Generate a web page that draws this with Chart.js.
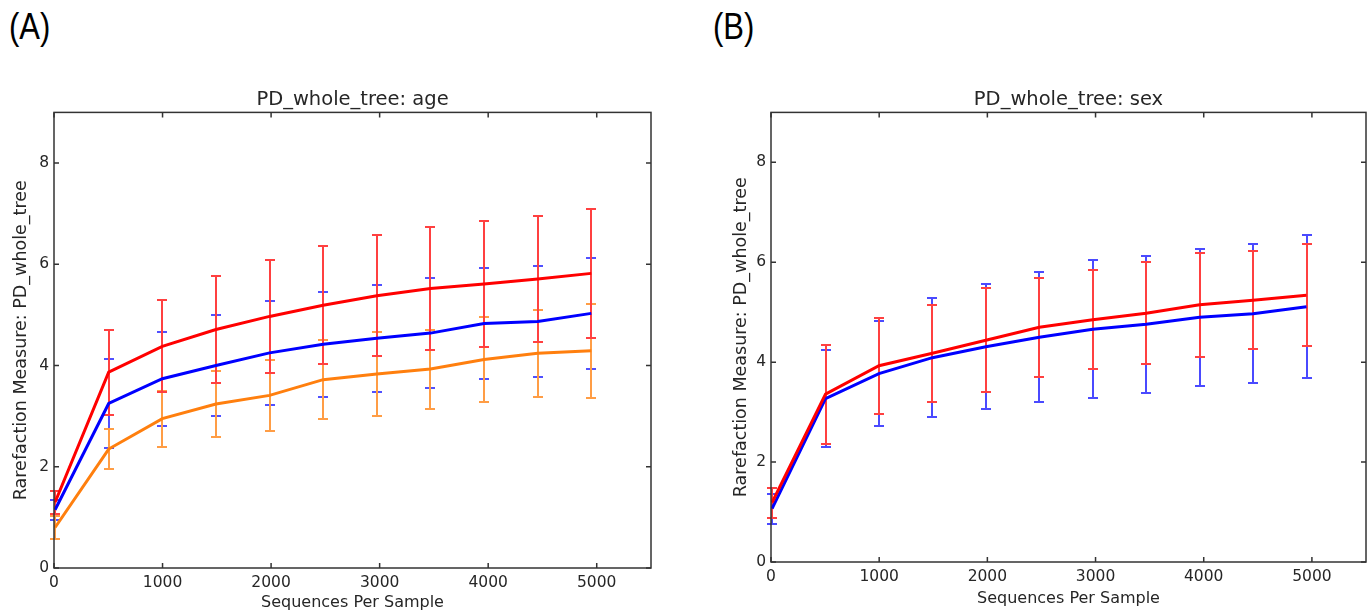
<!DOCTYPE html>
<html>
<head>
<meta charset="utf-8">
<script src="https://cdn.jsdelivr.net/npm/chart.js@4.4.1/dist/chart.umd.min.js"></script>
<style>
  html, body { margin: 0; padding: 0; background: #fff; }
  body { width: 1370px; height: 612px; position: relative; overflow: hidden; }
  .panel-label { position: absolute; top: 6px; font: 31px "Liberation Sans", Arial, sans-serif; color: #000;
                 transform: scale(1, 1.18); transform-origin: 0 0; }
  .box { position: absolute; top: 80px; height: 532px; }
</style>
</head>
<body>
<div class="panel-label" style="left:9px">(A)</div>
<div class="panel-label" style="left:713px">(B)</div>
<div class="box" style="left:0; width:675px"><canvas id="chart-age"></canvas></div>
<div class="box" style="left:717px; width:653px"><canvas id="chart-sex"></canvas></div>
<script>
// rarefaction depths (sequences per sample)
const depths = [10, 504, 998, 1492, 1986, 2480, 2974, 3468, 3962, 4456, 4950];

// (A) age groups: mean PD and error (half bar length)
const ageRed = [1.30, 3.87, 4.38, 4.71, 4.97, 5.19, 5.38, 5.52, 5.61, 5.71, 5.82];
const ageRedErr = [0.23, 0.84, 0.91, 1.05, 1.12, 1.17, 1.19, 1.22, 1.25, 1.24, 1.27];
const ageBlue = [1.15, 3.25, 3.74, 4.00, 4.25, 4.42, 4.54, 4.64, 4.83, 4.87, 5.03];
const ageBlueErr = [0.20, 0.88, 0.93, 1.00, 1.03, 1.04, 1.06, 1.09, 1.10, 1.09, 1.10];
const ageOrange = [0.80, 2.35, 2.95, 3.24, 3.41, 3.72, 3.83, 3.93, 4.12, 4.24, 4.29];
const ageOrangeErr = [0.22, 0.39, 0.55, 0.66, 0.70, 0.78, 0.83, 0.78, 0.84, 0.86, 0.93];

// (B) sex
const sexRed = [1.19, 3.36, 3.93, 4.18, 4.44, 4.70, 4.85, 4.98, 5.15, 5.24, 5.34];
const sexRedErr = [0.30, 0.99, 0.96, 0.97, 1.04, 0.99, 0.99, 1.02, 1.04, 0.98, 1.02];
const sexBlue = [1.07, 3.27, 3.77, 4.09, 4.31, 4.50, 4.66, 4.76, 4.90, 4.97, 5.11];
const sexBlueErr = [0.30, 0.97, 1.05, 1.19, 1.25, 1.30, 1.38, 1.37, 1.37, 1.39, 1.43];

const xTicks = [0, 1000, 2000, 3000, 4000, 5000];
const yTicks = [0, 2, 4, 6, 8];

const RED = '#ff0000', BLUE = '#0000ff', ORANGE = '#ff7f0e';
const TEXT = '#262626';
const FONT = '"DejaVu Sans", sans-serif';

function series(ys, errs, color, barColor) {
  return {
    data: ys.map((v, i) => ({ x: depths[i], y: v })),
    errors: errs,
    errorColor: barColor,
    borderColor: color,
    borderWidth: 3,
    pointRadius: 0,
    tension: 0,
    fill: false,
  };
}

// vertical error bars with caps, drawn under the lines (first dataset ends on top)
const errorBars = {
  id: 'errorBars',
  beforeDatasetsDraw(chart) {
    const { ctx, scales: { x, y } } = chart;
    ctx.save();
    ctx.lineWidth = 2;
    const list = [...chart.data.datasets].reverse();
    for (const ds of list) {
      ctx.strokeStyle = ds.errorColor;
      ds.data.forEach((p, i) => {
        // snap to whole pixels so the top bar fully hides the ones below
        const px = Math.round(x.getPixelForValue(p.x));
        const top = Math.round(y.getPixelForValue(p.y + ds.errors[i]));
        const bot = Math.round(y.getPixelForValue(p.y - ds.errors[i]));
        ctx.beginPath();
        ctx.moveTo(px, top); ctx.lineTo(px, bot);
        ctx.moveTo(px - 5, top); ctx.lineTo(px + 5, top);
        ctx.moveTo(px - 5, bot); ctx.lineTo(px + 5, bot);
        ctx.stroke();
      });
    }
    ctx.restore();
  },
};

// matplotlib-like box with inward ticks on all four sides
const frame = {
  id: 'frame',
  afterDraw(chart) {
    const { ctx, chartArea: a, scales: { x, y } } = chart;
    ctx.save();
    ctx.strokeStyle = '#333';
    ctx.lineWidth = 1.5;
    ctx.strokeRect(a.left, a.top, a.right - a.left, a.bottom - a.top);
    ctx.beginPath();
    for (const t of x.ticks) {
      const px = x.getPixelForValue(t.value);
      ctx.moveTo(px, a.bottom); ctx.lineTo(px, a.bottom - 5);
      ctx.moveTo(px, a.top); ctx.lineTo(px, a.top + 5);
    }
    for (const t of y.ticks) {
      const py = y.getPixelForValue(t.value);
      ctx.moveTo(a.left, py); ctx.lineTo(a.left + 5, py);
      ctx.moveTo(a.right, py); ctx.lineTo(a.right - 5, py);
    }
    ctx.stroke();
    ctx.restore();
  },
};

function makeChart(canvasId, title, datasets, opts) {
  return new Chart(document.getElementById(canvasId), {
    type: 'line',
    data: { datasets },
    plugins: [errorBars, frame],
    options: {
      responsive: true,
      maintainAspectRatio: false,
      animation: false,
      layout: { padding: { right: opts.right, top: 0, left: 0, bottom: 0 } },
      plugins: {
        legend: { display: false },
        tooltip: { enabled: false },
        title: {
          display: true,
          text: title,
          fullSize: false,
          color: TEXT,
          font: { family: FONT, size: 19.5, weight: 'normal' },
          padding: { top: 8, bottom: 1 },
        },
      },
      scales: {
        x: {
          type: 'linear',
          min: 0,
          max: 5500,
          afterBuildTicks: (s) => { s.ticks = xTicks.map((v) => ({ value: v })); },
          afterFit: (s) => { s.height = opts.xHeight; },
          grid: { display: false, drawTicks: false },
          border: { display: false },
          ticks: { color: TEXT, font: { family: FONT, size: 15.5 }, padding: 6, maxRotation: 0,
                   callback: (v) => String(v) },
          title: {
            display: true,
            text: 'Sequences Per Sample',
            color: TEXT,
            font: { family: FONT, size: 16 },
            padding: { top: 0, bottom: opts.xTitlePad },
          },
        },
        y: {
          min: 0,
          max: 9,
          afterBuildTicks: (s) => { s.ticks = yTicks.map((v) => ({ value: v })); },
          afterFit: (s) => { s.width = 54; },
          grid: { display: false, drawTicks: false },
          border: { display: false },
          ticks: { color: TEXT, font: { family: FONT, size: 15.5 }, padding: 5,
                   callback: (v) => String(v) },
          title: {
            display: true,
            text: 'Rarefaction Measure: PD_whole_tree',
            color: TEXT,
            font: { family: FONT, size: 17.5 },
            padding: { top: opts.yTitlePad, bottom: 0 },
          },
        },
      },
    },
  });
}

makeChart('chart-age', 'PD_whole_tree: age', [
  series(ageRed, ageRedErr, RED, '#ff4040'),
  series(ageOrange, ageOrangeErr, ORANGE, '#ff9d45'),
  series(ageBlue, ageBlueErr, BLUE, '#5050ff'),
], { right: 24, xHeight: 44, xTitlePad: 0, yTitlePad: 11 });

makeChart('chart-sex', 'PD_whole_tree: sex', [
  series(sexRed, sexRedErr, RED, '#ff4040'),
  series(sexBlue, sexBlueErr, BLUE, '#4a4aff'),
], { right: 4, xHeight: 50, xTitlePad: 4, yTitlePad: 14 });
</script>
</body>
</html>
